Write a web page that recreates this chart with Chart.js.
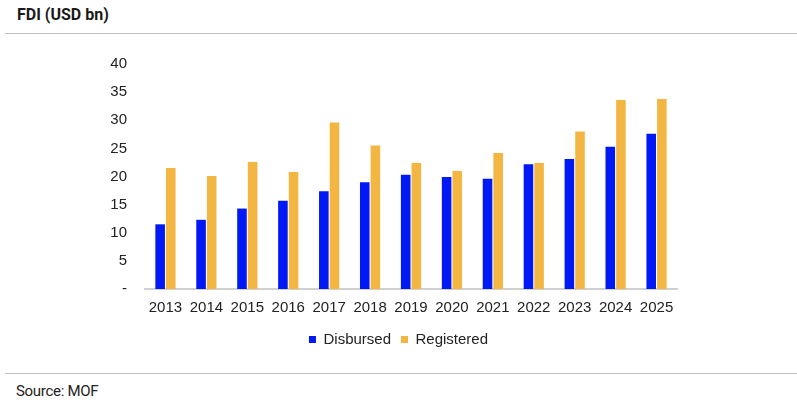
<!DOCTYPE html>
<html>
<head>
<meta charset="utf-8">
<script src="https://cdn.jsdelivr.net/npm/chart.js@4.4.1/dist/chart.umd.min.js"></script>
<style>
  body { margin: 0; background: #fff; width: 797px; height: 404px; position: relative; overflow: hidden; }
  .title { position: absolute; left: 17px; top: 5px; font: bold 16px Roboto, sans-serif; color: #1a1a1a; }
  .rule { position: absolute; left: 5px; right: 0; height: 1px; background: #bfbfbf; }
  .source { position: absolute; left: 16px; top: 382px; font: 15px Roboto, sans-serif; color: #222; letter-spacing: -0.3px; }
  .chart-box { position: absolute; left: 0; top: 37px; width: 797px; height: 320px; }
</style>
</head>
<body>
<div class="title">FDI (USD bn)</div>
<div class="rule" style="top:33px"></div>
<div class="chart-box"><canvas id="fdiChart"></canvas></div>
<div class="rule" style="top:373px"></div>
<div class="source">Source: MOF</div>
<script>
const years = ['2013', '2014', '2015', '2016', '2017', '2018', '2019', '2020', '2021', '2022', '2023', '2024', '2025'];
const disbursed = [11.5, 12.3, 14.3, 15.7, 17.4, 19.0, 20.3, 19.9, 19.6, 22.2, 23.1, 25.3, 27.6];
const registered = [21.5, 20.1, 22.6, 20.8, 29.6, 25.5, 22.4, 21.0, 24.2, 22.4, 28.0, 33.6, 33.8];
const yTicks = [0, 5, 10, 15, 20, 25, 30, 35, 40];

// the legend sits centred on the page, not under the plot
const centreLegend = {
    id: 'centreLegend',
    afterLayout(chart) {
        const lg = chart.legend;
        const shift = chart.width / 2 - (lg.left + lg.right) / 2;
        lg.left += shift;
        lg.right += shift;
    }
};

const ctx = document.getElementById('fdiChart');

new Chart(ctx, {
    type: 'bar',
    data: {
        labels: years,
        datasets: [{
            label: 'Disbursed',
            data: disbursed,
            backgroundColor: '#0019f5',
            categoryPercentage: 0.52,
            barPercentage: 0.9
        }, {
            label: 'Registered',
            data: registered,
            backgroundColor: '#f4b642',
            categoryPercentage: 0.52,
            barPercentage: 0.9
        }]
    },
    options: {
        responsive: true,
        maintainAspectRatio: false,
        animation: false,
        layout: {
            padding: { top: 17, right: 120, left: 0, bottom: 0 }
        },
        scales: {
            y: {
                min: 0,
                max: 40,
                afterFit: function (scale) { scale.width = 145; },
                afterBuildTicks: function (scale) {
                    scale.ticks = yTicks.map(v => ({ value: v }));
                },
                grid: { display: false, drawTicks: false },
                border: { display: false },
                ticks: {
                    padding: 18,
                    color: '#222',
                    font: { size: 15, family: "'Liberation Sans', Arial, sans-serif" },
                    // zero is shown as a dash
                    callback: function (value) {
                        return value === 0 ? '-' : value;
                    }
                }
            },
            x: {
                afterFit: function (scale) { scale.height = 33; },
                grid: { display: false, drawTicks: false },
                border: { display: true, color: '#d0d0d0', width: 2 },
                ticks: {
                    padding: 10,
                    color: '#222',
                    maxRotation: 0,
                    font: { size: 15, family: "'Liberation Sans', Arial, sans-serif" }
                }
            }
        },
        plugins: {
            legend: {
                position: 'bottom',
                labels: {
                    boxWidth: 7,
                    boxHeight: 7,
                    padding: 10,
                    color: '#222',
                    font: { size: 15, family: "'Liberation Sans', Arial, sans-serif" }
                }
            },
            tooltip: { enabled: false }
        }
    },
    plugins: [centreLegend]
});
</script>
</body>
</html>
